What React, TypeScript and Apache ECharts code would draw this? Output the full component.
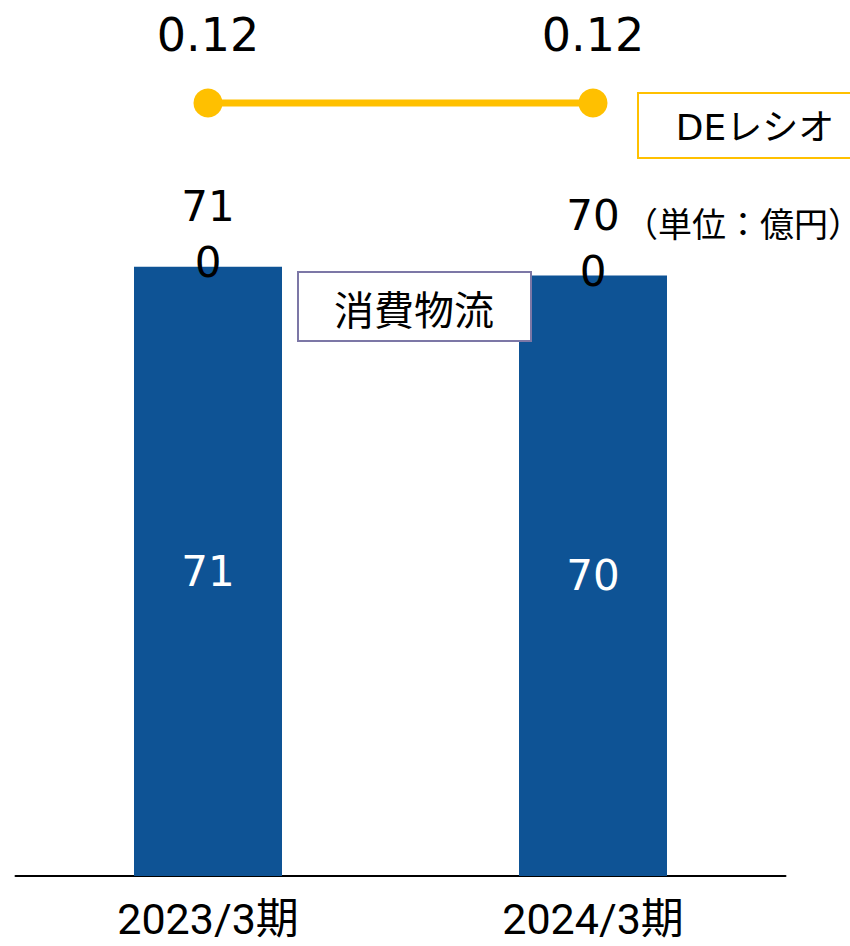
import React, { useEffect, useRef } from "react";
import * as echarts from "echarts";

const categories = ["2023/3期", "2024/3期"];
const logisticsValues = [71, 70];
const topLabelSuffix = ["0", "0"];
const deRatio = [0.12, 0.12];

const FONT = "'DejaVu Sans', 'Noto Sans CJK JP', sans-serif";
const CAT_FONT = "Roboto, 'Noto Sans CJK JP', sans-serif";

export default function App() {
  const ref = useRef<HTMLDivElement>(null);
  useEffect(() => {
    if (!ref.current) return;
    const chart = echarts.init(ref.current, undefined, { renderer: "svg" });
    chart.setOption({
      animation: false,
      textStyle: { fontFamily: FONT },
      grid: [
        { left: 15.5, width: 770, top: 18, height: 858 },
        { left: 15.5, width: 770, top: 60, height: 86 },
      ],
      xAxis: [
        {
          type: "category",
          gridIndex: 0,
          data: categories,
          axisLine: { lineStyle: { color: "#000", width: 2 } },
          axisTick: { show: false },
          axisLabel: {
            color: "#000",
            fontSize: 43,
            margin: 21,
            fontFamily: CAT_FONT,
          },
        },
        {
          type: "category",
          gridIndex: 1,
          data: categories,
          show: false,
        },
      ],
      yAxis: [
        { type: "value", gridIndex: 0, min: 0, max: 100, show: false, splitLine: { show: false } },
        { type: "value", gridIndex: 1, min: 0, max: 0.24, show: false, splitLine: { show: false } },
      ],
      series: [
        {
          name: "消費物流",
          type: "bar",
          xAxisIndex: 0,
          yAxisIndex: 0,
          data: logisticsValues,
          barWidth: 148,
          itemStyle: { color: "#0E5395" },
          label: {
            show: true,
            position: "inside",
            color: "#fff",
            fontSize: 42,
            fontFamily: FONT,
          },
          z: 2,
        },
        {
          name: "total",
          type: "bar",
          xAxisIndex: 0,
          yAxisIndex: 0,
          barGap: "-100%",
          barWidth: 148,
          data: logisticsValues,
          itemStyle: { color: "transparent" },
          label: {
            show: true,
            position: "top",
            offset: [0, 29],
            color: "#000",
            fontSize: 42,
            lineHeight: 56,
            fontFamily: FONT,
            formatter: (p: any) => `${p.value}\n${topLabelSuffix[p.dataIndex]}`,
          },
          z: 3,
        },
        {
          name: "DEレシオ",
          type: "line",
          xAxisIndex: 1,
          yAxisIndex: 1,
          data: deRatio,
          symbol: "circle",
          symbolSize: 29,
          lineStyle: { color: "#FFC000", width: 7 },
          itemStyle: { color: "#FFC000" },
          label: {
            show: true,
            position: "top",
            distance: 31,
            color: "#000",
            fontSize: 46,
            fontFamily: FONT,
            formatter: (p: any) => p.value.toFixed(2),
          },
        },
      ],
      graphic: [
        {
          type: "rect",
          shape: { x: 638, y: 93, width: 240, height: 65 },
          style: { fill: "#fff", stroke: "#FFC000", lineWidth: 2 },
          z: 10,
        },
        {
          type: "text",
          x: 755,
          y: 127,
          style: {
            text: "DEレシオ",
            fontSize: 36,
            fontFamily: FONT,
            fill: "#000",
            align: "center",
            verticalAlign: "middle",
          },
          z: 11,
        },
        {
          type: "rect",
          shape: { x: 298, y: 272, width: 233, height: 69 },
          style: { fill: "#fff", stroke: "#7C77A6", lineWidth: 2 },
          z: 10,
        },
        {
          type: "text",
          x: 414,
          y: 308,
          style: {
            text: "消費物流",
            fontSize: 40,
            fontFamily: "'Noto Sans CJK JP', sans-serif",
            fill: "#000",
            align: "center",
            verticalAlign: "middle",
          },
          z: 11,
        },
        {
          type: "text",
          x: 743,
          y: 222,
          style: {
            text: "（単位：億円）",
            fontSize: 34,
            fontFamily: "'Noto Sans CJK JP', sans-serif",
            fill: "#000",
            align: "center",
            verticalAlign: "middle",
          },
          z: 11,
        },
      ],
    });
    return () => chart.dispose();
  }, []);
  return (
    <div
      ref={ref}
      style={{ position: "absolute", left: 0, top: 0, width: 850, height: 946, background: "#fff" }}
    />
  );
}
